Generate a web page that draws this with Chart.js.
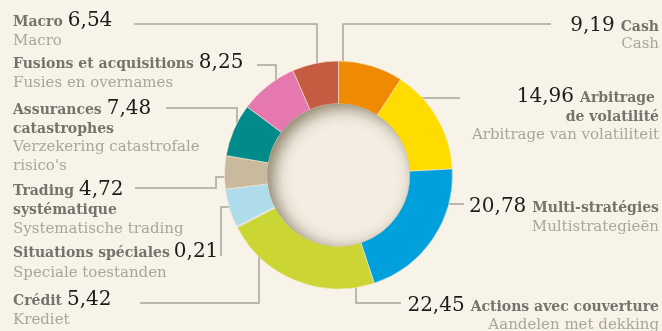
<!DOCTYPE html>
<html>
<head>
<meta charset="utf-8">
<script src="https://cdn.jsdelivr.net/npm/chart.js@4.4.1/dist/chart.umd.min.js"></script>
<style>
  html, body { margin: 0; padding: 0; background: #f8f3e9; }
  #wrap { width: 662px; height: 331px; }
</style>
</head>
<body>
<div id="wrap"><canvas id="c" width="662" height="331"></canvas></div>
<script>
// Allocation by strategy (%), clockwise from 12 o'clock
const categories = ['Cash', 'Arbitrage de volatilité', 'Multi-stratégies', 'Actions avec couverture',
  'Situations spéciales', 'Crédit', 'Trading systématique', 'Assurances catastrophes',
  'Fusions et acquisitions', 'Macro'];
const categoriesNl = ['Cash', 'Arbitrage van volatiliteit', 'Multistrategieën', 'Aandelen met dekking',
  'Speciale toestanden', 'Krediet', 'Systematische trading', 'Verzekering catastrofale risico\'s',
  'Fusies en overnames', 'Macro'];
const values = [9.19, 14.96, 20.78, 22.45, 0.21, 5.42, 4.72, 7.48, 8.25, 6.54];
const valueLabels = ['9,19', '14,96', '20,78', '22,45', '0,21', '5,42', '4,72', '7,48', '8,25', '6,54'];
const colors = ['#f08a00', '#ffdc00', '#00a0dd', '#cbd635', '#aedcea', '#aedcea',
  '#c9ba9e', '#008b8a', '#e578ae', '#c55b40'];

// Label layout: side, anchor x, first baseline, wrapped French lines, Dutch lines,
// and the elbow leader (fixed part; last segment runs to the ring)
const labelLayout = [
  { side: 'R', x: 659, y: 31, fr: ['Cash'], nl: ['Cash'], lh: 17, gap: 6, dx: 0,
    leader: { pts: [[551, 24], [343, 24]], end: 'down' } },
  { side: 'R', x: 659, y: 102, fr: ['Arbitrage', 'de volatilité'], nl: ['Arbitrage van volatiliteit'], lh: 18.5, gap: 6, dx: -4,
    leader: { pts: [[460, 98]], end: 'left' } },
  { side: 'R', x: 659, y: 212, fr: ['Multi-stratégies'], nl: ['Multistrategieën'], lh: 18.5, gap: 6, dx: 0,
    leader: { pts: [[464, 204]], end: 'left' } },
  { side: 'R', x: 659, y: 311, fr: ['Actions avec couverture'], nl: ['Aandelen met dekking'], lh: 17.5, gap: 6, dx: 0,
    leader: { pts: [[401, 303], [356, 303]], end: 'up' } },
  { side: 'L', x: 13, y: 257, fr: ['Situations spéciales'], nl: ['Speciale toestanden'], lh: 19.5, gap: 4, dx: 0,
    leader: { pts: [[221, 256], [221, 207]], end: 'right' } },
  { side: 'L', x: 13, y: 305, fr: ['Crédit'], nl: ['Krediet'], lh: 18.5, gap: 5, dx: 0,
    leader: { pts: [[140, 303], [259, 303]], end: 'up' } },
  { side: 'L', x: 13, y: 195, fr: ['Trading', 'systématique'], nl: ['Systematische trading'], lh: 19, gap: 5, dx: 0,
    leader: { pts: [[135, 188], [216, 188], [216, 177]], end: 'right' } },
  { side: 'L', x: 13, y: 114, fr: ['Assurances', 'catastrophes'], nl: ['Verzekering catastrofale', 'risico\'s'], lh: 18.7, gap: 5, dx: 0,
    leader: { pts: [[166, 108], [237, 108]], end: 'down' } },
  { side: 'L', x: 13, y: 68, fr: ['Fusions et acquisitions'], nl: ['Fusies en overnames'], lh: 19, gap: 5, dx: 0,
    leader: { pts: [[257, 65], [276, 65]], end: 'down' } },
  { side: 'L', x: 13, y: 26, fr: ['Macro'], nl: ['Macro'], lh: 19, gap: 5, dx: 0,
    leader: { pts: [[134, 24], [317, 24]], end: 'down' } }
];

const FONT_FR = 'bold 14px "DejaVu Serif", serif';
const FONT_NUM = '20px "DejaVu Serif", serif';
const FONT_NL = '15px "DejaVu Serif", serif';
const COL_FR = '#77736a';
const COL_NUM = '#1c1c1c';
const COL_NL = '#a9a598';
const COL_LEADER = '#a9a598';

function ringGeom(chart) {
  const arc = chart.getDatasetMeta(0).data[0];
  return { cx: arc.x, cy: arc.y, ro: arc.outerRadius, ri: arc.innerRadius };
}

// Leader lines, drawn beneath the ring so they tuck under the slices
const leaderPlugin = {
  id: 'leaders',
  beforeDatasetsDraw(chart) {
    const { ctx } = chart;
    const g = ringGeom(chart);
    const r = g.ro - 6;
    ctx.save();
    ctx.strokeStyle = COL_LEADER;
    ctx.lineWidth = 1.5;
    labelLayout.forEach(l => {
      const pts = l.leader.pts.slice();
      const last = pts[pts.length - 1];
      let end;
      if (l.leader.end === 'down') end = [last[0], g.cy - Math.sqrt(r * r - (last[0] - g.cx) ** 2)];
      if (l.leader.end === 'up') end = [last[0], g.cy + Math.sqrt(r * r - (last[0] - g.cx) ** 2)];
      if (l.leader.end === 'left') end = [g.cx + Math.sqrt(r * r - (last[1] - g.cy) ** 2), last[1]];
      if (l.leader.end === 'right') end = [g.cx - Math.sqrt(r * r - (last[1] - g.cy) ** 2), last[1]];
      pts.push(end);
      ctx.beginPath();
      ctx.moveTo(pts[0][0], pts[0][1]);
      for (let i = 1; i < pts.length; i++) ctx.lineTo(pts[i][0], pts[i][1]);
      ctx.stroke();
    });
    ctx.restore();
  },
  afterDatasetsDraw(chart) {
    // shaded centre disc
    const { ctx } = chart;
    const g = ringGeom(chart);
    ctx.save();
    ctx.beginPath();
    ctx.arc(g.cx, g.cy, g.ri, 0, Math.PI * 2);
    ctx.clip();
    ctx.fillStyle = '#f3ede2';
    ctx.fill();
    ctx.beginPath();
    ctx.arc(g.cx, g.cy, g.ri + 60, 0, Math.PI * 2);
    ctx.arc(g.cx, g.cy, g.ri, 0, Math.PI * 2, true);
    ctx.shadowColor = 'rgba(120, 108, 82, 0.85)';
    ctx.shadowBlur = 16;
    ctx.shadowOffsetX = 6;
    ctx.shadowOffsetY = 4;
    ctx.fillStyle = '#8a8070';
    ctx.fill();
    ctx.restore();
  },
  afterDraw(chart) {
    const { ctx } = chart;
    ctx.save();
    ctx.textBaseline = 'alphabetic';
    labelLayout.forEach((l, i) => {
      let y = l.y;
      const num = valueLabels[i];
      ctx.textAlign = l.side === 'L' ? 'left' : 'right';
      l.fr.forEach((t, k) => {
        const x = k === 0 ? l.x + l.dx : l.x;
        ctx.font = FONT_FR; ctx.fillStyle = COL_FR;
        ctx.fillText(t, x, y);
        if (k === 0) {
          const w = ctx.measureText(t).width;
          ctx.font = FONT_NUM; ctx.fillStyle = COL_NUM;
          const nx = l.side === 'L' ? x + w + l.gap : x - w - l.gap;
          ctx.fillText(num, nx, y);
        }
        y += l.lh;
      });
      ctx.font = FONT_NL; ctx.fillStyle = COL_NL;
      l.nl.forEach(t => { ctx.fillText(t, l.x, y); y += l.lh; });
    });
    ctx.restore();
  }
};

new Chart(document.getElementById('c'), {
  type: 'doughnut',
  data: {
    labels: categories,
    datasets: [{
      data: values,
      backgroundColor: colors,
      borderColor: 'rgba(250, 236, 215, 0.55)',
      borderWidth: 1
    }]
  },
  options: {
    responsive: false,
    animation: false,
    radius: 114,
    cutout: '62.5%',
    layout: { padding: { left: 224, right: 209, top: 61, bottom: 42 } },
    plugins: { legend: { display: false }, tooltip: { enabled: false } }
  },
  plugins: [leaderPlugin]
});
</script>
</body>
</html>
